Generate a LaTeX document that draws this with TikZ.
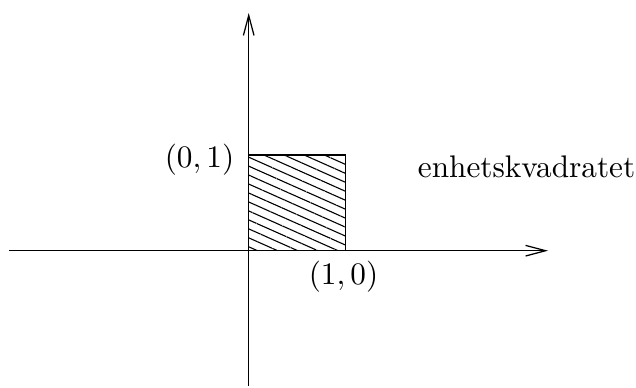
\documentclass[tikz,border=0pt]{standalone}
\usepackage{amsmath,amssymb}
\usetikzlibrary{arrows.meta,patterns.meta}
\tikzset{
  axis/.style={-{Straight Barb[length=6.4pt,width=3.4pt,line width=.4pt]},draw=black,line width=.4pt},
  unitsq/.style={draw=black,line width=.4pt,pattern={Lines[angle=-24,distance=2.62pt,line width=.35pt]}},
  lbl/.style={inner sep=0pt,anchor=base},
}
\begin{document}
\begin{tikzpicture}[x=0.32pt,y=-0.32pt]
  \useasboundingbox (0,0) rectangle (636,387);
  % axes
  \coordinate (xs) at (9,250.7);
  \coordinate (xe) at (548,250.7);
  \coordinate (ys) at (248.7,386);
  \coordinate (ye) at (248.7,13);
  \coordinate (o) at (248.7,250.7);
  \coordinate (c) at (345.7,155);
  \draw[unitsq] (o) rectangle (c);
  \draw[axis] (xs) -- (xe);
  \draw[axis] (ys) -- (ye);
  % labels
  \node[lbl] (p01) at (199.5,167.5) {$(0,1)$};
  \node[lbl] (p10) at (343.5,284) {$(1,0)$};
  \node[lbl] (name) at (526.5,177.5) {enhetskvadratet};
\end{tikzpicture}
\end{document}
